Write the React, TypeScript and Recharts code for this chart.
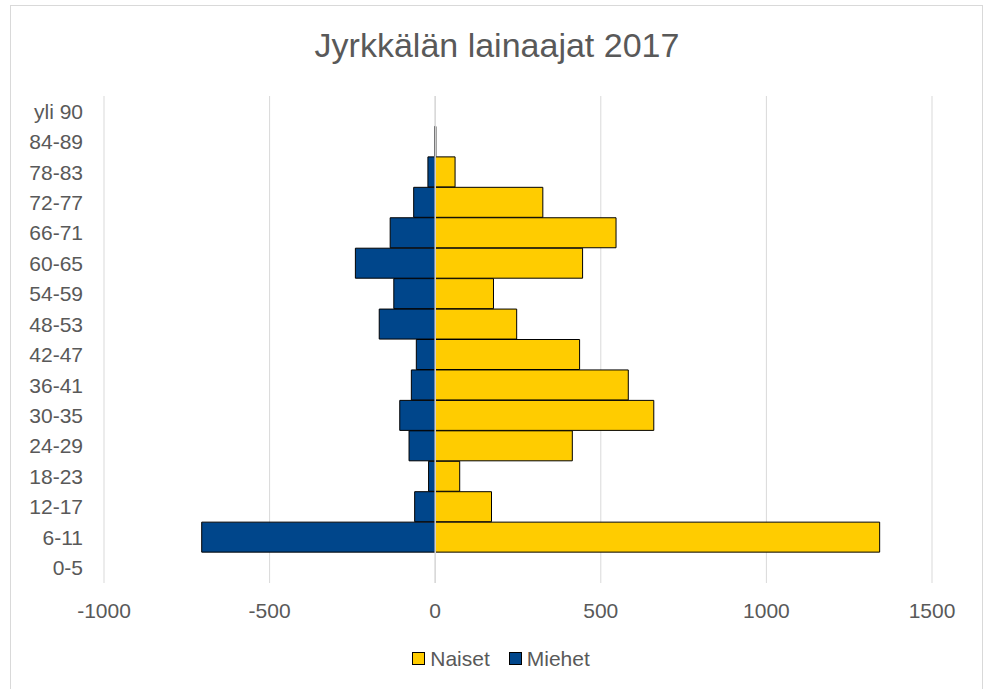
import React from 'react';
import { BarChart, Bar, XAxis, YAxis, CartesianGrid, Legend, ReferenceLine } from 'recharts';

const ageGroups = ['0-5', '6-11', '12-17', '18-23', '24-29', '30-35', '36-41', '42-47', '48-53', '54-59', '60-65', '66-71', '72-77', '78-83', '84-89', 'yli 90'];
const naiset = [0, 1342, 170, 74, 414, 660, 583, 436, 246, 176, 445, 546, 325, 60, 2, 0];
const miehet = [0, -705, -62, -20, -79, -107, -72, -57, -169, -125, -241, -136, -65, -22, -2, 0];
const xTicks = [-1000, -500, 0, 500, 1000, 1500];
const seriesNames = ['Naiset', 'Miehet'];

const data = ageGroups.map((age, i) => ({ age, Naiset: naiset[i], Miehet: miehet[i] }));

const FONT = '"Liberation Sans", Arial, sans-serif';
const TEXT = '#595959';
const YELLOW = '#FFCC00';
const BLUE = '#00468B';

const LegendContent = (props: any) => {
  const items = [...(props.payload || [])].sort(
    (a: any, b: any) => seriesNames.indexOf(a.value) - seriesNames.indexOf(b.value)
  );
  return (
    <div style={{ display: 'flex', justifyContent: 'center', alignItems: 'flex-start', fontFamily: FONT, fontSize: 21, lineHeight: '24px', color: TEXT, paddingLeft: 14 }}>
      {items.map((it: any, i: number) => (
        <div key={i} style={{ display: 'flex', alignItems: 'flex-start', marginRight: i < items.length - 1 ? 19 : 0 }}>
          <span style={{ display: 'inline-block', boxSizing: 'border-box', width: 13, height: 13, marginTop: 5, marginRight: 5, background: it.color, border: '1px solid #000' }} />
          <span>{it.value}</span>
        </div>
      ))}
    </div>
  );
};

export default function App() {
  return (
    <div style={{ position: 'fixed', left: 0, top: 0, width: 988, height: 689, overflow: 'hidden', background: '#fff' }}>
      <div style={{ position: 'absolute', left: 10, top: 5, width: 973, height: 700, border: '1px solid #D9D9D9', boxSizing: 'border-box' }} />
      <div style={{ position: 'absolute', left: 0, top: 25, width: 994, textAlign: 'center', fontFamily: FONT, fontSize: 34, lineHeight: '40px', color: TEXT }}>
        Jyrkkälän lainaajat 2017
      </div>
      <div style={{ position: 'absolute', left: 0, top: 0 }}>
        <BarChart
          width={988}
          height={689}
          data={data}
          layout="vertical"
          stackOffset="sign"
          barCategoryGap={0}
          margin={{ top: 96, right: 56, bottom: 76, left: 24 }}
        >
          <CartesianGrid horizontal={false} stroke="#D9D9D9" strokeWidth={1} />
          <XAxis
            type="number"
            domain={[-1000, 1500]}
            ticks={xTicks}
            allowDataOverflow
            axisLine={false}
            tickLine={false}
            tickMargin={14}
            height={30}
            tick={{ fill: TEXT, fontSize: 21, fontFamily: FONT }}
          />
          <YAxis
            type="category"
            dataKey="age"
            reversed
            width={80}
            axisLine={false}
            tickLine={false}
            tickMargin={15}
            interval={0}
            tick={{ fill: TEXT, fontSize: 21, fontFamily: FONT }}
          />
          <Legend
            layout="horizontal"
            verticalAlign="middle"
            align="center"
            wrapperStyle={{ top: 647, left: 0, width: 988 }}
            content={<LegendContent />}
          />
          <Bar dataKey="Naiset" stackId="a" fill={YELLOW} stroke="#000" strokeWidth={1} isAnimationActive={false} />
          <Bar dataKey="Miehet" stackId="a" fill={BLUE} stroke="#000" strokeWidth={1} isAnimationActive={false} />
          <ReferenceLine x={0} stroke="#D9D9D9" strokeWidth={1.5} />
        </BarChart>
      </div>
    </div>
  );
}
